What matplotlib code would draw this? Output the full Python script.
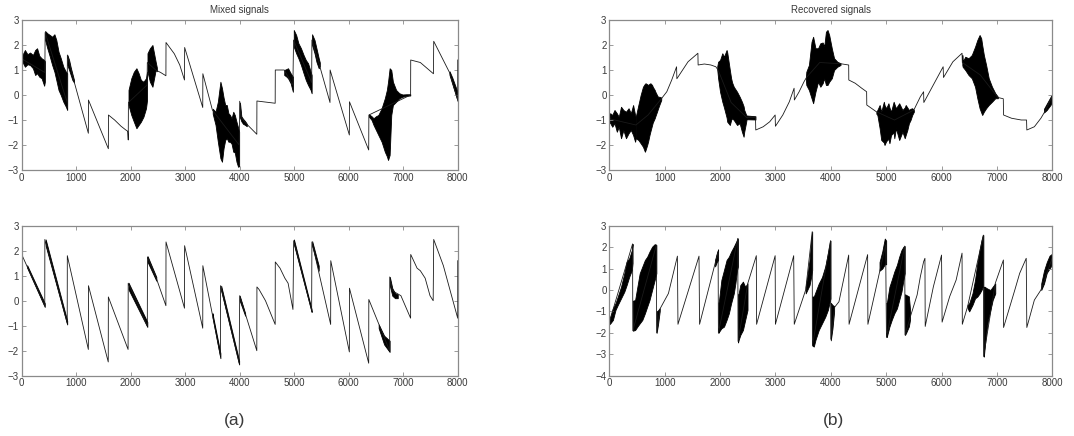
import matplotlib
matplotlib.use("Agg")
import matplotlib.pyplot as plt

plt.rcParams['font.family'] = ['Liberation Sans', 'DejaVu Sans']

# ---------------- data ----------------
x_ticks = [0, 1000, 2000, 3000, 4000, 5000, 6000, 7000, 8000]
titles = ["Mixed signals", "Recovered signals"]
panel_labels = ["(a)", "(b)"]

# Mixed signal 1 (top-left): thin trace knots
mix1_x = [0, 425, 430, 835, 838, 960, 1223, 1225, 1590, 1592, 1705, 1823, 1911, 1945, 1955,
          1958, 2300, 2305, 2460, 2550, 2646, 2648, 2800, 2900, 2987, 2990, 3322, 3324, 3499,
          3990, 4000, 4030, 4100, 4314, 4316, 4651, 4653, 4817, 4976, 4988, 5320, 5325, 5450,
          5657, 5659, 6012, 6014, 6367, 6370, 7136, 7138, 7314, 7555, 7560, 7850, 8000, 8000]
mix1_y = [1.45, 0.9, 2.5, -0.3, 1.6, 0.55, -1.53, -0.2, -2.15, -0.8, -1.0, -1.25, -1.4, -1.45, -1.8,
          -0.3, 0.4, 1.3, 1.0, 0.9, 0.77, 2.1, 1.65, 1.2, 0.6, 1.9, -0.5, 0.85, -0.6,
          -2.0, -0.25, -0.9, -1.1, -1.57, -0.24, -0.33, 1.0, 1.0, 0.4, 2.2, 0.5, 2.2, 1.3,
          -0.3, 1.0, -1.6, -0.27, -2.2, -0.8, 0.0, 1.4, 1.3, 0.85, 2.15, 0.9, -0.2, 1.4]
mix1_burst_x = [
    [0, 12, 59, 106, 153, 206, 247, 282, 323, 365, 412, 425],
    [430, 470, 517, 559, 600, 635, 676, 717, 764, 811, 835],
    [838, 870, 900, 930, 960],
    [1960, 2011, 2058, 2105, 2146, 2187, 2234, 2281, 2300],
    [2308, 2352, 2399, 2423, 2458, 2480],
    [3505, 3557, 3599, 3646, 3675, 3704, 3734, 3763, 3793, 3822, 3851, 3882, 3910, 3941, 3970, 3990],
    [4005, 4030, 4060, 4100, 4130],
    [4817, 4850, 4887, 4935, 4976],
    [4992, 5036, 5077, 5124, 5172, 5213, 5254, 5302, 5320],
    [5328, 5373, 5408, 5450, 5470],
    [6372, 6420, 6456, 6500, 6544, 6604, 6663, 6700, 6722, 6751, 6781, 6811, 6870, 6929, 6988, 7060, 7130],
    [7850, 7900, 7950, 8000],
]
mix1_burst_hi = [
    [1.5, 1.6, 1.8, 1.63, 1.7, 1.6, 1.8, 1.87, 1.57, 1.47, 1.4, 1.35],
    [2.56, 2.47, 2.4, 2.33, 2.43, 2.2, 1.73, 1.47, 1.13, 0.93, 0.87],
    [1.6, 1.4, 1.1, 0.85, 0.6],
    [0.2, 0.67, 0.93, 1.07, 0.87, 0.6, 0.53, 0.67, 0.93],
    [1.67, 1.87, 2.0, 1.73, 1.33, 1.1],
    [-0.55, -0.67, -0.27, 0.53, 0.27, -0.1, -0.4, -0.4, -0.73, -0.8, -0.93, -0.67, -0.8, -1.07, -1.3, -1.47],
    [-0.3, -0.85, -0.95, -1.05, -1.15],
    [1.0, 1.03, 1.07, 0.87, 0.73],
    [2.6, 2.4, 2.07, 1.87, 1.6, 1.4, 1.27, 0.93, 0.8],
    [2.43, 2.2, 1.87, 1.47, 1.3],
    [-0.77, -0.85, -0.93, -0.85, -0.8, -0.53, -0.13, 0.2, 0.53, 1.07, 1.0, 0.53, 0.2, 0.07, 0.02, 0.03, 0.03],
    [0.95, 0.7, 0.4, 0.1],
]
mix1_burst_lo = [
    [1.35, 1.33, 1.13, 1.23, 1.2, 1.07, 0.8, 0.87, 0.73, 0.67, 0.37, 0.53],
    [2.2, 1.87, 1.53, 1.2, 0.93, 0.6, 0.2, 0.0, -0.27, -0.47, -0.6],
    [1.2, 1.0, 0.8, 0.6, 0.5],
    [-0.4, -0.8, -1.07, -1.33, -1.2, -1.07, -0.87, -0.53, -0.2],
    [0.93, 0.53, 0.33, 0.6, 1.0, 0.95],
    [-0.75, -1.2, -1.87, -2.53, -2.67, -2.13, -1.8, -1.73, -1.87, -1.87, -1.95, -2.27, -2.3, -2.67, -2.87, -2.85],
    [-0.9, -1.05, -1.15, -1.2, -1.25],
    [0.8, 0.75, 0.67, 0.47, 0.13],
    [1.93, 1.67, 1.47, 1.2, 0.87, 0.6, 0.4, 0.2, 0.07],
    [2.0, 1.67, 1.33, 1.07, 1.15],
    [-0.87, -1.0, -1.2, -1.4, -1.6, -1.87, -2.27, -2.45, -2.6, -2.4, -0.8, -0.4, -0.27, -0.13, -0.07, -0.03, -0.02],
    [0.8, 0.45, 0.1, -0.25],
]

# Mixed signal 2 (bottom-left)
mix2_x = [0, 423, 425, 835, 837, 1223, 1225, 1588, 1590, 1952, 1954, 2305, 2307, 2470, 2646, 2648,
          2987, 2989, 3322, 3324, 3646, 3648, 3990, 4000, 4314, 4316, 4355, 4473, 4651, 4653,
          4740, 4829, 4888, 4977, 4990, 5320, 5325, 5669, 5671, 6012, 6014, 6367, 6369, 6751,
          6753, 6800, 6958, 7136, 7138, 7255, 7314, 7403, 7492, 7550, 7560, 7737, 8000, 8000]
mix2_y = [1.85, -0.2, 2.45, -0.9, 1.8, -1.95, 0.6, -2.45, 0.15, -1.95, 0.7, -1.0, 1.75, 0.9, -0.2, 2.35,
          -0.3, 2.2, -1.1, 1.4, -2.2, 0.6, -2.5, 0.2, -2.0, 0.55, 0.45, 0.0, -0.95, 1.55,
          1.3, 0.9, 0.7, -0.35, 2.4, -0.4, 2.35, -0.95, 1.6, -2.05, 0.5, -2.5, 0.05, -2.0,
          0.95, 0.4, 0.2, -0.7, 1.85, 1.3, 1.2, 0.9, 0.2, 0.0, 2.45, 1.4, -0.7, 1.6]
mix2_burst_x = [
    [100, 423], [440, 835], [1960, 2305], [2310, 2470], [3500, 3646], [3660, 3990],
    [4000, 4100], [4995, 5320], [5330, 5450], [6550, 6650, 6751], [6755, 6800, 6850, 6900],
]
mix2_burst_hi = [
    [1.42, -0.1], [2.45, -0.8], [0.72, -0.85], [1.78, 0.95], [-0.5, -2.1], [0.6, -2.4],
    [0.2, -0.5], [2.45, -0.35], [2.38, 1.4], [-0.95, -1.4, -1.6], [0.95, 0.5, 0.3, 0.25],
]
mix2_burst_lo = [
    [1.32, -0.25], [2.2, -0.95], [0.45, -1.05], [1.55, 0.8], [-0.65, -2.3], [0.4, -2.55],
    [0.0, -0.6], [2.25, -0.45], [2.2, 1.2], [-1.1, -1.75, -2.05], [0.6, 0.2, 0.1, 0.1],
]

# Recovered signal 1 (top-right)
rec1_x = [0, 480, 700, 940, 1038, 1127, 1215, 1220, 1422, 1600, 1604, 1717, 1835, 1923, 1965,
          2200, 2480, 2640, 2645, 2779, 2897, 2995, 3000, 3133, 3251, 3337, 3342, 3428, 3516,
          3560, 3800, 4180, 4323, 4325, 4441, 4559, 4647, 4650, 4823, 5150, 5500, 5617, 5676,
          5680, 6029, 6035, 6205, 6370, 6375, 6700, 7017, 7115, 7120, 7264, 7440, 7535, 7540,
          7676, 7794, 7882, 8000]
rec1_y = [-0.95, -1.2, -0.8, -0.15, 0.13, 0.6, 1.13, 0.65, 1.33, 1.67, 1.2, 1.24, 1.2, 1.13, 1.0,
          -0.3, -0.9, -0.9, -1.4, -1.27, -1.07, -0.8, -1.25, -0.8, -0.27, 0.27, -0.2, 0.13, 0.53,
          0.7, 1.3, 1.25, 1.2, 0.6, 0.47, 0.27, 0.13, -0.4, -0.67, -1.0, -0.6, -0.07, 0.13,
          -0.3, 1.13, 0.7, 1.33, 1.67, 1.3, 0.8, -0.1, -0.15, -0.8, -0.93, -1.0, -1.0, -1.4,
          -1.27, -0.93, -0.6, -0.05]
rec1_burst_x = [
    [0, 18, 53, 94, 136, 171, 212, 254, 301, 348, 389, 430, 466, 478],
    [478, 525, 566, 608, 643, 655, 684, 702, 726, 743, 773, 785, 820, 832, 861, 879, 903, 938],
    [1950, 1965, 2000, 2041, 2071, 2118, 2130, 2159, 2177, 2200, 2218, 2248, 2307, 2354, 2395, 2425, 2437, 2472, 2480],
    [2480, 2640],
    [3550, 3558, 3605, 3652, 3681, 3723, 3770, 3811, 3853, 3882, 3912, 3941, 3971, 4018, 4059, 4118, 4176],
    [4823, 4841, 4882, 4911, 4958, 4970, 5000, 5041, 5059, 5088, 5135, 5147, 5176, 5235, 5294, 5335,
     5353, 5382, 5411, 5440, 5470, 5500],
    [6375, 6381, 6428, 6487, 6546, 6605, 6646, 6687, 6716, 6734, 6764, 6805, 6852, 6911, 6970, 7017],
    [7850, 7900, 7950, 8000],
]
rec1_burst_hi = [
    [-0.75, -0.73, -0.8, -0.6, -0.73, -0.87, -0.47, -0.6, -0.67, -0.53, -0.73, -0.4, -0.8, -0.87],
    [-0.87, -0.4, 0.0, 0.33, 0.45, 0.47, 0.43, 0.4, 0.45, 0.47, 0.4, 0.33, 0.2, 0.13, 0.0, -0.07, -0.07, -0.1],
    [1.15, 1.33, 1.4, 1.67, 1.53, 1.8, 1.7, 1.27, 1.0, 0.67, 0.5, 0.33, 0.13, -0.07, -0.27, -0.45, -0.6, -0.8, -0.85],
    [-0.82, -0.85],
    [0.7, 0.93, 1.2, 2.13, 2.33, 1.87, 1.87, 2.07, 2.1, 1.95, 2.53, 2.6, 2.4, 1.87, 1.47, 1.33, 1.27],
    [-0.67, -0.6, -0.4, -0.67, -0.27, -0.4, -0.53, -0.33, -0.5, -0.67, -0.27, -0.35, -0.53, -0.33, -0.6, -0.5,
     -0.4, -0.5, -0.6, -0.55, -0.53, -0.6],
    [1.6, 1.33, 1.53, 1.47, 1.6, 1.93, 2.2, 2.4, 2.27, 2.0, 1.6, 1.2, 0.67, 0.33, 0.07, -0.07],
    [-0.55, -0.35, -0.15, 0.05],
]
rec1_burst_lo = [
    [-1.1, -1.13, -1.27, -1.13, -1.47, -1.27, -1.73, -1.4, -1.73, -1.53, -1.4, -1.6, -1.87, -1.73],
    [-1.73, -1.8, -1.93, -2.07, -2.27, -2.2, -2.0, -1.85, -1.6, -1.45, -1.2, -1.1, -0.93, -0.85, -0.67, -0.55, -0.4, -0.2],
    [1.0, 0.67, 0.13, -0.27, -0.5, -0.9, -1.07, -1.15, -1.2, -1.0, -0.93, -1.0, -1.2, -1.13, -1.47, -1.67, -1.47, -1.07, -0.95],
    [-0.97, -0.98],
    [0.6, 0.4, 0.2, -0.13, -0.33, 0.13, 0.53, 0.33, 0.47, 0.67, 0.4, 0.4, 0.53, 0.67, 1.0, 1.13, 1.2],
    [-0.75, -0.8, -1.33, -1.8, -1.9, -2.0, -1.85, -1.75, -1.93, -1.6, -1.5, -1.73, -1.33, -1.8, -1.47, -1.73,
     -1.6, -1.4, -1.13, -1.0, -0.8, -0.67],
    [1.2, 1.13, 1.0, 0.8, 0.67, 0.33, -0.13, -0.53, -0.7, -0.8, -0.67, -0.53, -0.4, -0.27, -0.13, -0.13],
    [-0.7, -0.6, -0.45, -0.3],
]

# Recovered signal 2 (bottom-right)
rec2_x = [0, 420, 425, 850, 855, 920, 1068, 1230, 1240, 1620, 1630, 1965, 1970, 2320, 2325, 2500,
          2655, 2660, 2995, 3000, 3330, 3340, 3546, 3664, 3668, 3995, 4000, 4070, 4147, 4323,
          4330, 4665, 4670, 4990, 5005, 5335, 5340, 5430, 5559, 5617, 5676, 5700, 5705, 5852,
          6000, 6010, 6146, 6264, 6370, 6375, 6470, 6755, 6760, 6970, 7117, 7120, 7323, 7411,
          7529, 7540, 7676, 7794, 8000]
rec2_y = [-1.5, 2.15, -1.9, 2.1, -2.0, -0.86, -0.16, 1.58, -1.6, 1.58, -1.6, 1.79, -2.0, 2.41, -2.4, 0.3,
          1.6, -1.6, 1.6, -1.6, 1.6, -1.6, 0.0, 2.72, -2.6, 2.3, -2.3, -0.8, -0.55, 1.63,
          -1.6, 1.65, -1.6, 2.1, -2.2, 2.05, -2.1, -1.3, -0.23, 0.62, 1.32, 1.48, -1.7, 0.15,
          1.63, -1.5, -0.31, 0.47, 1.72, -1.6, -0.78, 2.56, -3.1, 0.31, 1.4, -1.75, 0.0, 0.78,
          1.48, -1.75, -0.47, 0.0, 1.5]
rec2_burst_x = [
    [0, 18, 65, 112, 153, 212, 271, 313, 360, 407, 420],
    [425, 466, 507, 549, 596, 643, 684, 726, 773, 820, 850],
    [855, 880, 910],
    [1910, 1940, 1965],
    [1970, 1982, 2024, 2071, 2118, 2159, 2200, 2248, 2277, 2307, 2322],
    [2325, 2336, 2366, 2413, 2454, 2496],
    [3546, 3575, 3616, 3646, 3664],
    [3668, 3693, 3723, 3782, 3841, 3900, 3947, 3988, 3995],
    [4000, 4030, 4060],
    [4880, 4930, 4975, 5000],
    [5005, 5012, 5059, 5100, 5147, 5194, 5235, 5276, 5312, 5335],
    [5340, 5360, 5410, 5430],
    [6470, 6499, 6558, 6605, 6646, 6687, 6722, 6746, 6755],
    [6760, 6764, 6781, 6805, 6840, 6882, 6923, 6970],
    [7800, 7850, 7900, 7950, 8000],
]
rec2_burst_hi = [
    [-1.3, -1.25, -0.86, -0.62, -0.31, 0.15, 0.78, 1.32, 1.48, 1.86, 2.15],
    [-0.5, -0.47, 0.15, 0.78, 1.09, 1.4, 1.55, 1.79, 2.02, 2.14, 2.1],
    [-1.0, -0.95, -0.85],
    [1.4, 1.7, 1.9],
    [-0.6, -0.47, 0.47, 0.93, 1.4, 1.55, 1.79, 2.02, 2.18, 2.33, 2.41],
    [-0.2, -0.16, 0.23, 0.39, 0.15, 0.31],
    [0.15, 0.62, 1.4, 2.33, 2.72],
    [-0.3, -0.31, -0.1, 0.3, 0.6, 1.1, 1.7, 2.3, 2.3],
    [-0.6, -0.7, -0.75],
    [1.3, 1.8, 2.4, 2.3],
    [-0.6, -0.62, 0.15, 0.47, 0.86, 1.17, 1.55, 1.86, 2.02, 2.05],
    [-0.2, -0.23, -0.3, -0.9],
    [-0.7, -0.62, -0.16, 0.47, 1.25, 1.86, 2.33, 2.56, 2.56],
    [0.15, 0.15, 0.15, 0.1, 0.05, 0.0, 0.15, 0.31],
    [0.3, 0.9, 1.3, 1.6, 1.7],
]
rec2_burst_lo = [
    [-1.6, -1.56, -1.4, -0.93, -0.7, -0.39, -0.08, 0.23, 0.62, 0.93, 1.25],
    [-1.9, -1.87, -1.71, -1.56, -1.4, -1.09, -0.78, -0.47, 0.0, 0.47, 0.78],
    [-2.0, -1.6, -1.0],
    [1.1, 1.3, 1.4],
    [-2.0, -1.95, -1.79, -1.71, -1.4, -1.09, -0.62, -0.16, 0.31, 0.93, 1.09],
    [-2.45, -2.33, -2.1, -1.87, -1.4, -0.93],
    [-0.16, 0.0, 0.23, 0.62, 0.93],
    [-2.6, -2.64, -2.33, -1.87, -1.56, -1.25, -0.93, -0.47, -0.4],
    [-2.35, -1.8, -1.0],
    [0.9, 1.0, 1.2, 1.2],
    [-2.2, -2.18, -1.71, -1.4, -1.09, -0.86, -0.47, -0.08, 0.47, 0.78],
    [-2.1, -2.0, -1.7, -1.4],
    [-0.85, -1.0, -0.7, -0.39, -0.31, -0.16, 0.0, 0.15, 0.15],
    [-3.1, -3.11, -2.64, -2.02, -1.4, -0.93, -0.47, -0.16],
    [0.0, 0.3, 0.8, 1.0, 1.2],
]

# ---------------- drawing ----------------
W, H = 1074, 436
fig = plt.figure(figsize=(W / 100, H / 100), dpi=100)

def rect(l, t, r, b):
    return [l / W, 1 - b / H, (r - l) / W, (b - t) / H]

panels = [
    (rect(21.7, 20, 457.7, 170), mix1_x, mix1_y, mix1_burst_x, mix1_burst_lo, mix1_burst_hi, (-3, 3), titles[0]),
    (rect(609.3, 20, 1052.3, 170), rec1_x, rec1_y, rec1_burst_x, rec1_burst_lo, rec1_burst_hi, (-3, 3), titles[1]),
    (rect(21.7, 225.7, 457.7, 375.7), mix2_x, mix2_y, mix2_burst_x, mix2_burst_lo, mix2_burst_hi, (-3, 3), None),
    (rect(609.3, 225.7, 1052.3, 375.7), rec2_x, rec2_y, rec2_burst_x, rec2_burst_lo, rec2_burst_hi, (-4, 3), None),
]

frame_col = '#8a8a8a'
text_col = '#3a3a3a'

for pos, lx, ly, bxs, blos, bhis, ylim, title in panels:
    ax = fig.add_axes(pos)
    ax.plot(lx, ly, color='#1a1a1a', lw=0.6)
    for bx, blo, bhi in zip(bxs, blos, bhis):
        ax.fill_between(bx, blo, bhi, color='black', lw=0.6, edgecolor='black')
    ax.set_xlim(0, 8000)
    ax.set_ylim(*ylim)
    ax.set_xticks(x_ticks)
    ax.set_yticks(list(range(ylim[0], ylim[1] + 1)))
    ax.set_yticklabels([str(v).replace('-', '\u2212') for v in range(ylim[0], ylim[1] + 1)])
    ax.tick_params(direction='in', length=3, width=0.6, color=frame_col,
                   top=True, right=True, labelsize=7, labelcolor=text_col, pad=2)
    for s in ax.spines.values():
        s.set_color(frame_col)
        s.set_linewidth(0.9)
    if title:
        ax.set_title(title, fontsize=7, color=text_col, pad=5)

fig.text(235 / W, 1 - 420 / H, panel_labels[0], fontsize=12.5, color=text_col, ha='center', va='center')
fig.text(833 / W, 1 - 420 / H, panel_labels[1], fontsize=12.5, color=text_col, ha='center', va='center')

fig.savefig("out.png", dpi=100)
